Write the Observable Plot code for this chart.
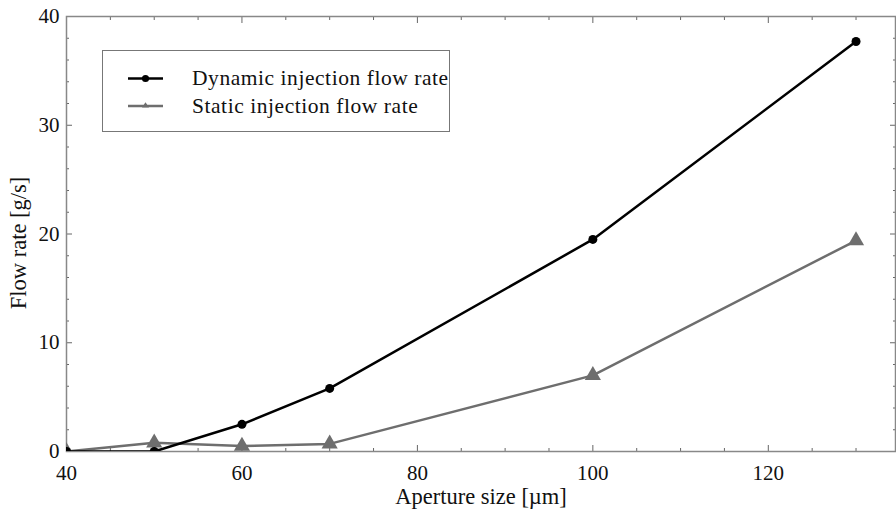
<!DOCTYPE html>
<html>
<head>
<meta charset="utf-8">
<script src="https://cdn.jsdelivr.net/npm/d3@7"></script>
<script src="https://cdn.jsdelivr.net/npm/@observablehq/plot@0.6"></script>
<style>
  html, body { margin: 0; padding: 0; background: #fff; }
  #wrap { position: relative; width: 896px; height: 520px; font-family: "Liberation Serif", "Times New Roman", serif; }
  #legend { position: absolute; left: 102px; top: 50px; }
</style>
</head>
<body>
<div id="wrap"></div>
<script>
// Data
const apertureSize = [40, 50, 60, 70, 100, 130];
const dynamicFlow = [0, 0, 2.5, 5.8, 19.5, 37.7];
const staticFlow = [0, 0.8, 0.5, 0.7, 7.0, 19.4];

const seriesNames = ["Dynamic injection flow rate", "Static injection flow rate"];
const seriesColors = ["#000000", "#6e6e6e"];

const xMajorTicks = [40, 60, 80, 100, 120];
const xMinorTicks = [45, 50, 55, 65, 70, 75, 85, 90, 95, 105, 110, 115, 125, 130];
const yMajorTicks = [0, 10, 20, 30, 40];
const yMinorTicks = [2, 4, 6, 8, 12, 14, 16, 18, 22, 24, 26, 28, 32, 34, 36, 38];

const dynData = apertureSize.map((x, i) => ({x, y: dynamicFlow[i]}));
const staData = apertureSize.map((x, i) => ({x, y: staticFlow[i]}));

const serif = "'Liberation Serif', 'Times New Roman', serif";
const tickStroke = "#666";
const blank = () => "";

const chart = Plot.plot({
  width: 896,
  height: 520,
  marginLeft: 66,
  marginRight: 1,
  marginTop: 16,
  marginBottom: 69,
  style: {fontFamily: serif, background: "#fff", color: "#111"},
  x: {domain: [40, 134.5]},
  y: {domain: [0, 40]},
  marks: [
    // minor ticks, inward, all four sides
    Plot.axisX(xMinorTicks, {anchor: "bottom", tickSize: -3, tickFormat: blank, label: null, stroke: tickStroke}),
    Plot.axisX(xMinorTicks, {anchor: "top", tickSize: -3, tickFormat: blank, label: null, stroke: tickStroke}),
    Plot.axisY(yMinorTicks, {anchor: "left", tickSize: -3, tickFormat: blank, label: null, stroke: tickStroke}),
    Plot.axisY(yMinorTicks, {anchor: "right", tickSize: -3, tickFormat: blank, label: null, stroke: tickStroke}),
    // major ticks, inward
    Plot.axisX(xMajorTicks, {anchor: "bottom", tickSize: -6, tickFormat: blank, label: null, stroke: tickStroke}),
    Plot.axisX(xMajorTicks, {anchor: "top", tickSize: -6, tickFormat: blank, label: null, stroke: tickStroke}),
    Plot.axisY(yMajorTicks, {anchor: "left", tickSize: -6, tickFormat: blank, label: null, stroke: tickStroke}),
    Plot.axisY(yMajorTicks, {anchor: "right", tickSize: -6, tickFormat: blank, label: null, stroke: tickStroke}),
    // tick labels
    Plot.axisX(xMajorTicks, {anchor: "bottom", tickSize: 0, tickPadding: 14, fontSize: 21, label: null, fill: "#111"}),
    Plot.axisY(yMajorTicks, {anchor: "left", tickSize: 0, tickPadding: 7, fontSize: 21, label: null, fill: "#111"}),
    Plot.frame({stroke: "#888", strokeWidth: 1.5}),
    // series
    Plot.line(staData, {x: "x", y: "y", stroke: seriesColors[1], strokeWidth: 2.5, clip: "frame"}),
    Plot.dot(staData, {x: "x", y: "y", symbol: "triangle", r: 6, fill: seriesColors[1], stroke: null, clip: "frame"}),
    Plot.line(dynData, {x: "x", y: "y", stroke: seriesColors[0], strokeWidth: 2.5, clip: "frame"}),
    Plot.dot(dynData, {x: "x", y: "y", symbol: "circle", r: 4.5, fill: seriesColors[0], stroke: null, clip: "frame"}),
    // axis titles
    Plot.text(["Aperture size [µm]"], {frameAnchor: "bottom", textAnchor: "middle", lineAnchor: "middle", dy: 45, fontSize: 22.5, fill: "#111"}),
    Plot.text(["Flow rate [g/s]"], {frameAnchor: "left", textAnchor: "middle", lineAnchor: "middle", dx: -48, dy: 9, rotate: -90, fontSize: 22.5, fill: "#111"})
  ]
});

const wrap = document.getElementById("wrap");
wrap.appendChild(chart);

// legend (boxed, upper left of the plot area)
const ns = "http://www.w3.org/2000/svg";
const lg = document.createElementNS(ns, "svg");
lg.setAttribute("id", "legend");
lg.setAttribute("width", 348);
lg.setAttribute("height", 82);
const rowSampleY = [28.5, 56];
const rowBaseline = [34.5, 63];
let inner = `<rect x="0.5" y="0.5" width="347" height="81" fill="#fff" stroke="#777" stroke-width="1"/>`;
seriesNames.forEach((name, i) => {
  const c = seriesColors[i];
  const y = rowSampleY[i];
  inner += `<line x1="26" x2="61" y1="${y}" y2="${y}" stroke="${c}" stroke-width="2.5"/>`;
  inner += i === 0
    ? `<circle cx="43.5" cy="${y}" r="3.6" fill="${c}"/>`
    : `<path d="M43.5,${y - 3.8} L47,${y + 1.5} L40,${y + 1.5} Z" fill="${c}"/>`;
  inner += `<text x="90" y="${rowBaseline[i]}" font-family="${serif.replace(/'/g, "&quot;")}" font-size="21.5" letter-spacing="0.55" fill="#111">${name}</text>`;
});
lg.innerHTML = inner;
wrap.appendChild(lg);
</script>
</body>
</html>
